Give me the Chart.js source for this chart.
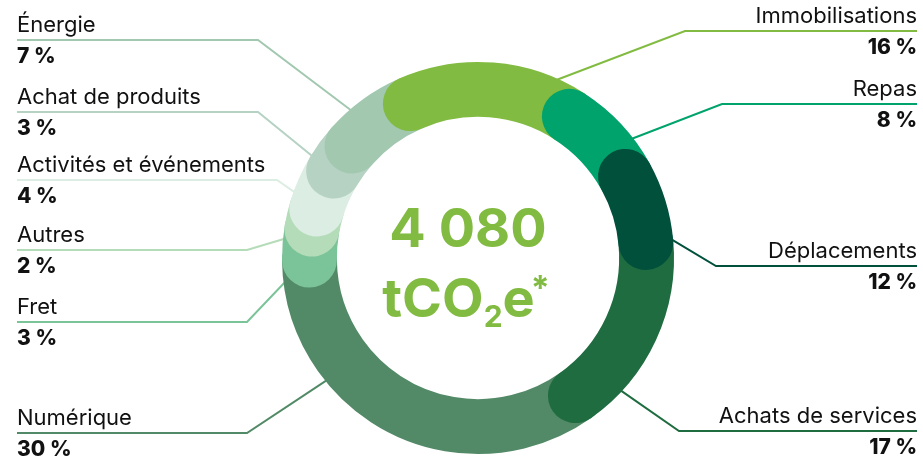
<!DOCTYPE html>
<html lang="fr">
<head>
<meta charset="utf-8">
<title>Empreinte carbone 4 080 tCO2e</title>
<script src="https://cdn.jsdelivr.net/npm/chart.js@4/dist/chart.umd.min.js"></script>
<style>
  html, body { margin: 0; padding: 0; background: #fff; }
  #wrap { width: 923px; height: 459px; }
</style>
</head>
<body>
<div id="wrap"><canvas id="myChart" width="923" height="459"></canvas></div>
<script>
// Data (clockwise from the top)
const categories = ["Immobilisations", "Repas", "Déplacements", "Achats de services", "Numérique",
  "Fret", "Autres", "Activités et événements", "Achat de produits", "Énergie"];
const shares = [16, 8, 12, 17, 30, 3, 2, 4, 3, 7];
const totalValue = "4 080";
const unitText = ["tCO", "2", "e", "*"];

// Styles / layout
const colors = ["#82bb41", "#00a36c", "#00503c", "#1f6c40", "#528a67",
  "#7bc398", "#b5dcb8", "#dcede3", "#b5d2c3", "#a2c8b0"];
// which slice lies above which (first = bottom)
const zOrder = [4, 5, 6, 7, 8, 9, 0, 1, 3, 2];
// label rows: side, y of the rule, elbow x, angle (deg from top) where the leader meets the ring
const sides = ["right", "right", "right", "right", "left", "left", "left", "left", "left", "left"];
const ruleY = [31, 104, 266, 431, 433, 322, 250, 180, 112, 40];
const elbowX = [685, 722, 716, 679, 247, 247, 247, 277, 258, 258];
const leaderDeg = [23, 52, 84, 133, 231, 263.5, 276, 289.5, 301.5, 319.5];
const green = "#82bb41";
const font = "Inter, 'Noto Sans', sans-serif";

function toXY(arc, deg, r) {
  const a = (deg - 90) * Math.PI / 180;
  return [arc.x + r * Math.cos(a), arc.y + r * Math.sin(a)];
}

// Draw the ring with round overlapping ends + leader lines
const roundedRing = {
  id: "roundedRing",
  beforeDatasetDraw(chart) {
    const ctx = chart.ctx;
    const arcs = chart.getDatasetMeta(0).data;
    const n = arcs.length;
    const p0 = arcs[0].getProps(["x", "y", "innerRadius", "outerRadius"], true);

    // leader lines
    ctx.save();
    ctx.lineWidth = 2;
    arcs.forEach((arc, i) => {
      const [ex, ey] = toXY(p0, leaderDeg[i], p0.outerRadius - 4);
      ctx.strokeStyle = colors[i];
      ctx.beginPath();
      if (sides[i] === "left") {
        ctx.moveTo(17, ruleY[i]);
      } else {
        ctx.moveTo(917, ruleY[i]);
      }
      ctx.lineTo(elbowX[i], ruleY[i]);
      ctx.lineTo(ex, ey);
      ctx.stroke();
    });
    ctx.restore();

    // ring
    const rank = [];
    zOrder.forEach((idx, k) => { rank[idx] = k; });
    ctx.save();
    ctx.lineCap = "round";
    zOrder.forEach((i) => {
      const p = arcs[i].getProps(["x", "y", "startAngle", "endAngle", "innerRadius", "outerRadius"], true);
      const thick = p.outerRadius - p.innerRadius;
      const mid = (p.outerRadius + p.innerRadius) / 2;
      const capA = (thick / 2) / mid;
      const prev = (i - 1 + n) % n, next = (i + 1) % n;
      const a0 = p.startAngle + (rank[prev] < rank[i] ? capA : -capA);
      const a1 = p.endAngle + (rank[next] < rank[i] ? -capA : capA);
      ctx.strokeStyle = colors[i];
      ctx.lineWidth = thick;
      ctx.beginPath();
      ctx.arc(p.x, p.y, mid, a0, a1);
      ctx.stroke();
    });
    ctx.restore();
    return false;
  },
  afterDraw(chart) {
    const ctx = chart.ctx;
    const p0 = chart.getDatasetMeta(0).data[0];

    // category labels
    ctx.save();
    ctx.fillStyle = "#111";
    ctx.textBaseline = "alphabetic";
    categories.forEach((name, i) => {
      const left = sides[i] === "left";
      ctx.textAlign = left ? "left" : "right";
      const x = left ? 17 : 917;
      ctx.font = "400 22px " + font;
      ctx.fillText(name, x, ruleY[i] - 8);
      ctx.font = "800 21px " + font;
      ctx.fillText(shares[i] + " %", x, ruleY[i] + 23);
    });

    // total in the middle
    ctx.fillStyle = green;
    ctx.textAlign = "center";
    ctx.font = "700 54px " + font;
    ctx.fillText(totalValue, p0.x - 10, 247);

    const big = "700 54px " + font, sub = "700 30px " + font, sup = "700 34px " + font;
    ctx.font = big; const w1 = ctx.measureText(unitText[0]).width;
    ctx.font = sub; const w2 = ctx.measureText(unitText[1]).width;
    ctx.font = big; const w3 = ctx.measureText(unitText[2]).width;
    ctx.font = sup; const w4 = ctx.measureText(unitText[3]).width;
    let x = p0.x - 10 - (w1 + w2 + w3 + w4) / 2;
    ctx.textAlign = "left";
    ctx.font = big; ctx.fillText(unitText[0], x, 317); x += w1;
    ctx.font = sub; ctx.fillText(unitText[1], x, 327); x += w2;
    ctx.font = big; ctx.fillText(unitText[2], x, 317); x += w3;
    ctx.font = sup; ctx.fillText(unitText[3], x - 4, 300);
    ctx.restore();
  }
};

document.addEventListener("DOMContentLoaded", function () {
  const ctx = document.getElementById("myChart");

  new Chart(ctx, {
    type: "doughnut",
    data: {
      labels: categories,
      datasets: [
        {
          data: shares,
          backgroundColor: colors,
          borderWidth: 0,
        },
      ],
    },
    options: {
      responsive: false,
      animation: false,
      events: [],
      rotation: -33,
      cutout: "72%",
      layout: {
        padding: { left: 282, right: 249, top: 62, bottom: 5 },
      },
      plugins: {
        legend: { display: false },
        tooltip: { enabled: false },
      },
    },
    plugins: [roundedRing],
  });
});
</script>
</body>
</html>
